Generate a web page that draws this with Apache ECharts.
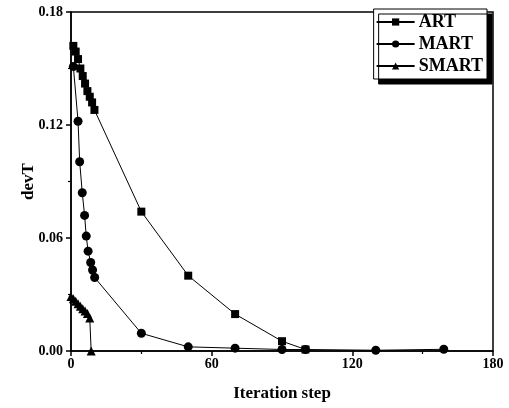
<!DOCTYPE html>
<html><head><meta charset="utf-8">
<script src="https://cdn.jsdelivr.net/npm/echarts@6/dist/echarts.min.js"></script>
<style>html,body{margin:0;padding:0;background:#fff}#c{width:509px;height:408px}</style>
</head><body><div id="c"></div>
<script>
const seriesNames = ['ART', 'MART', 'SMART'];
const artX = [1, 2, 3, 4, 5, 6, 7, 8, 9, 10, 30, 50, 70, 90, 100];
const artY = [0.162, 0.159, 0.155, 0.150, 0.146, 0.142, 0.138, 0.135, 0.132, 0.128, 0.074, 0.040, 0.0196, 0.0052, 0.0008];
const martX = [1, 3, 3.7, 4.8, 5.8, 6.5, 7.3, 8.4, 9.2, 10.1, 30, 50, 70, 90, 100, 130, 159];
const martY = [0.151, 0.122, 0.1005, 0.084, 0.072, 0.061, 0.053, 0.047, 0.043, 0.039, 0.0094, 0.0022, 0.0015, 0.0008, 0.0008, 0.0004, 0.0009];
const smartX = [0, 1, 2, 3, 4, 5, 6, 7, 8, 8.6];
const smartY = [0.029, 0.0277, 0.0264, 0.0251, 0.0238, 0.0225, 0.0212, 0.0199, 0.0175, 0.0];
const yTicks = [0, 0.06, 0.12, 0.18];
const xTicks = [0, 60, 120, 180];

const pair = (xs, ys) => xs.map((x, i) => [x, ys[i]]);
const font = '"Liberation Serif", "Times New Roman", serif';
const chart = echarts.init(document.getElementById('c'));
const mk = (name, data, symbol, size) => ({
  name, type: 'line', data, symbol, symbolSize: size,
  lineStyle: { color: '#000', width: 1 },
  itemStyle: { color: '#000' },
  emphasis: { disabled: true },
  animation: false
});
chart.setOption({
  animation: false,
  grid: { left: 71, right: 16, top: 12, bottom: 57, show: true, borderColor: '#000', borderWidth: 1.5, backgroundColor: 'transparent' },
  legend: {
    orient: 'vertical', right: 22, top: 9,
    data: seriesNames,
    itemWidth: 38, itemHeight: 9, itemGap: 4,
    padding: [4, 4, 4, 2],
    backgroundColor: '#fff', borderColor: '#000', borderWidth: 1,
    shadowColor: '#000', shadowBlur: 0, shadowOffsetX: 5, shadowOffsetY: 5,
    textStyle: { fontFamily: font, fontWeight: 'bold', fontSize: 18, color: '#000', padding: [0, 0, 0, -1] }
  },
  xAxis: {
    type: 'value', min: xTicks[0], max: xTicks[xTicks.length - 1], interval: 60,
    name: 'Iteration step', nameLocation: 'middle', nameGap: 34, nameMoveOverlap: false,
    nameTextStyle: { fontFamily: font, fontWeight: 'bold', fontSize: 17, color: '#000' },
    axisLine: { show: true, lineStyle: { color: '#000', width: 1.5 } },
    axisTick: { show: true, length: 5, lineStyle: { color: '#000', width: 1.5 } },
    minorTick: { show: true, splitNumber: 2, length: 3, lineStyle: { color: '#000', width: 1.2 } },
    splitLine: { show: false },
    axisLabel: { fontFamily: font, fontWeight: 'bold', fontSize: 14, color: '#000', margin: 6 }
  },
  yAxis: {
    type: 'value', min: yTicks[0], max: yTicks[yTicks.length - 1], interval: 0.06,
    name: 'devT', nameLocation: 'middle', nameGap: 34, nameMoveOverlap: false,
    nameTextStyle: { fontFamily: font, fontWeight: 'bold', fontSize: 17, color: '#000' },
    axisLine: { show: true, lineStyle: { color: '#000', width: 1.5 } },
    axisTick: { show: true, length: 5, lineStyle: { color: '#000', width: 1.5 } },
    minorTick: { show: true, splitNumber: 2, length: 3, lineStyle: { color: '#000', width: 1.2 } },
    splitLine: { show: false },
    axisLabel: { fontFamily: font, fontWeight: 'bold', fontSize: 14, color: '#000', margin: 8, formatter: v => v.toFixed(2) }
  },
  series: [
    mk(seriesNames[0], pair(artX, artY), 'rect', 8),
    mk(seriesNames[1], pair(martX, martY), 'circle', 9),
    mk(seriesNames[2], pair(smartX, smartY), 'triangle', 9)
  ]
});
</script></body></html>
